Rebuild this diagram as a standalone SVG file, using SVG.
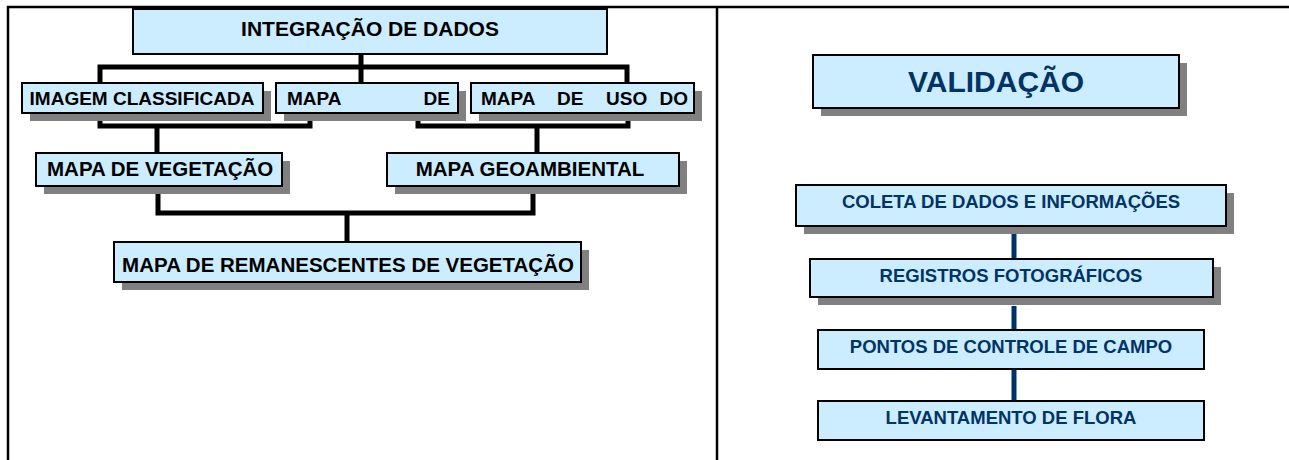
<svg xmlns="http://www.w3.org/2000/svg" width="1289" height="460" viewBox="0 0 1289 460">
<style>
.box{fill:#CCECFF;stroke:#000;stroke-width:2}
.sh{fill:#808080}
.t{font-family:"Liberation Sans",Arial,sans-serif;font-weight:bold;font-size:19px;fill:#000}
.tb{font-size:20.5px}
.tn{font-family:"Liberation Sans",Arial,sans-serif;font-weight:bold;font-size:18.5px;fill:#003366;text-anchor:middle}
.c{fill:none;stroke:#000;stroke-width:5}
.cn{fill:none;stroke:#003366;stroke-width:5}
.frame{fill:none;stroke:#000;stroke-width:2.5}
</style>
<rect width="1289" height="460" fill="#fff"/>
<g id="frame">
<path class="frame" d="M8,460 V7 H1289 M717,7 V460"/>
</g>
<g id="connectors">
<path class="c" d="M361,54 V67 M100,83 V67 H627 V83 M361,67 V83"/>
<path class="c" d="M100,119 V126 H310 V119 M157,126 V153"/>
<path class="c" d="M418,119 V126 H628 V119 M537,126 V153"/>
<path class="c" d="M158,192 V213 H533 V192 M347,213 V242"/>
<path class="cn" d="M1014,234 V259 M1014,306 V330 M1014,369 V401"/>
</g>
<g id="n-integracao">
<rect class="box" x="133" y="9" width="474" height="45"/>
<text class="t" x="370" y="36" text-anchor="middle" style="font-size:21px">INTEGRAÇÃO DE DADOS</text>
</g>
<g id="n-imagem">
<rect class="sh" x="30" y="91" width="241" height="30"/>
<rect class="box" x="22" y="83" width="241" height="30"/>
<text class="t" x="142" y="105" text-anchor="middle">IMAGEM CLASSIFICADA</text>
</g>
<g id="n-mapa-de">
<rect class="sh" x="284" y="91" width="182" height="30"/>
<rect class="box" x="276" y="83" width="182" height="30"/>
<text class="t" x="287" y="105">MAPA</text>
<text class="t" x="450" y="105" text-anchor="end">DE</text>
</g>
<g id="n-mapa-uso">
<rect class="sh" x="479" y="91" width="223" height="30"/>
<rect class="box" x="471" y="83" width="223" height="30"/>
<text class="t" x="481" y="105">MAPA</text>
<text class="t" x="557" y="105">DE</text>
<text class="t" x="606" y="105">USO</text>
<text class="t" x="688" y="105" text-anchor="end">DO</text>
</g>
<g id="n-vegetacao">
<rect class="sh" x="44" y="161" width="246" height="33"/>
<rect class="box" x="36" y="153" width="246" height="33"/>
<text class="t tb" x="47" y="176">MAPA DE VEGETAÇÃO</text>
</g>
<g id="n-geoambiental">
<rect class="sh" x="395" y="161" width="292" height="33"/>
<rect class="box" x="387" y="153" width="292" height="33"/>
<text class="t tb" x="530" y="176" text-anchor="middle">MAPA GEOAMBIENTAL</text>
</g>
<g id="n-remanescentes">
<rect class="sh" x="122" y="250" width="467" height="40"/>
<rect class="box" x="114" y="242" width="467" height="40"/>
<text class="t tb" x="348" y="272" text-anchor="middle">MAPA DE REMANESCENTES DE VEGETAÇÃO</text>
</g>
<g id="n-validacao">
<rect class="sh" x="821" y="63" width="366" height="53"/>
<rect class="box" x="813" y="55" width="366" height="53"/>
<text class="tn" x="996" y="92" style="font-size:30px">VALIDAÇÃO</text>
</g>
<g id="n-coleta">
<rect class="sh" x="804" y="193" width="430" height="41"/>
<rect class="box" x="796" y="185" width="430" height="41"/>
<text class="tn" x="1011" y="208">COLETA DE DADOS E INFORMAÇÕES</text>
</g>
<g id="n-registros">
<rect class="sh" x="818" y="267" width="403" height="38"/>
<rect class="box" x="810" y="259" width="403" height="38"/>
<text class="tn" x="1011" y="282">REGISTROS FOTOGRÁFICOS</text>
</g>
<g id="n-pontos">
<rect class="box" x="818" y="330" width="386" height="39"/>
<text class="tn" x="1011" y="353">PONTOS DE CONTROLE DE CAMPO</text>
</g>
<g id="n-levantamento">
<rect class="box" x="818" y="401" width="386" height="39"/>
<text class="tn" x="1011" y="424">LEVANTAMENTO DE FLORA</text>
</g>
</svg>
